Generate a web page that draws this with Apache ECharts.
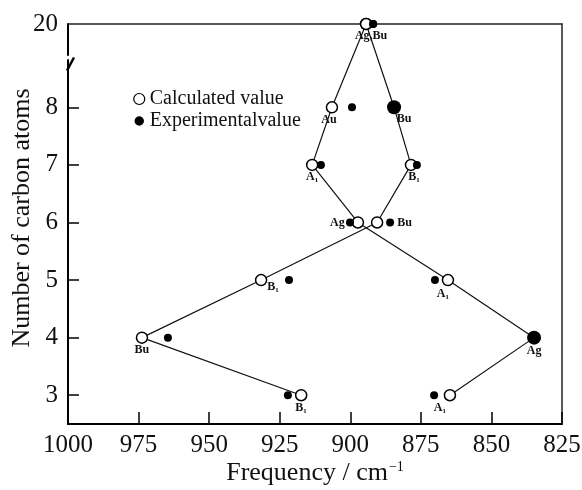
<!DOCTYPE html>
<html>
<head>
<meta charset="utf-8">
<script src="https://cdn.jsdelivr.net/npm/echarts@6.0.0/dist/echarts.min.js"></script>
<style>
  html, body { margin: 0; padding: 0; background: #fff; }
  #chart { width: 582px; height: 490px; }
</style>
</head>
<body>
<div id="chart"></div>
<script>
// number of carbon atoms, top to bottom
var carbons = [20, 8, 7, 6, 5, 4, 3];
// branch A (Au / A1 / Ag) and branch B (Bu / B1)
var calcA = [894.4, 906.5, 913.5, 897.3, 865.4, 834.9, 864.7];
var expA  = [891.9, 899.4, 910.4, 900.1, 870.0, 834.9, 870.3];
var calcB = [894.4, 884.5, 878.5, 890.5, 931.6, 973.8, 917.4];
var expB  = [891.9, 884.5, 876.4, 885.9, 921.7, 964.6, 922.1];
var labelsA = ['Ag,Bu', 'Au', 'A₁', 'Ag', 'A₁', 'Ag', 'A₁'];
var labelsB = ['', 'Bu', 'B₁', 'Bu', 'B₁', 'Bu', 'B₁'];
var yTicks = [3, 4, 5, 6, 7, 8, 20];
var yBreak = [8.83, 19.47];

var serif = '"Liberation Serif", "Times New Roman", serif';

// where each label sits round its point
var placeA = [
    {position: 'bottom', offset: [5, -2]},
    {position: 'bottom', offset: [-3, -2]},
    {position: 'bottom', offset: [0, -2]},
    {position: 'left', distance: 7},
    {position: 'bottom', offset: [-5, 0]},
    {position: 'bottom', offset: [0, -1]},
    {position: 'bottom', offset: [-10, -2]}
];
var placeB = [
    {position: 'bottom'},
    {position: 'bottom', offset: [10, -3]},
    {position: 'bottom', offset: [3, -2]},
    {position: 'right', distance: 14},
    {position: 'right', distance: 0, offset: [0, 7]},
    {position: 'bottom', offset: [0, -2]},
    {position: 'bottom', offset: [0, -2]}
];

function chain(calc, labels, place) {
    return calc.map(function (x, i) {
        return {
            value: [x, carbons[i]],
            label: Object.assign({show: labels[i] !== '', formatter: labels[i]}, place[i])
        };
    });
}
function pairs(exp, calc) {
    return exp.map(function (x, i) { return [x, carbons[i], calc[i]]; });
}

var lineStyleCalc = {
    type: 'line',
    name: 'Calculated value',
    symbol: 'circle',
    symbolSize: 11,
    itemStyle: {color: '#fff', borderColor: '#000', borderWidth: 1.5, opacity: 1},
    lineStyle: {color: '#111', width: 1.2},
    label: {color: '#111', fontFamily: serif, fontWeight: 'bold', fontSize: 12, distance: 2},
    emphasis: {disabled: true},
    z: 3
};

var myChart = echarts.init(document.getElementById('chart'));
myChart.setOption({
    animation: false,
    backgroundColor: '#fff',
    grid: {left: 68, right: 20, top: 24, bottom: 66, outerBoundsMode: 'none', containLabel: false},
    legend: {
        orient: 'vertical',
        left: 128,
        top: 84,
        itemGap: 2,
        itemWidth: 11,
        itemHeight: 11,
        textStyle: {fontFamily: serif, fontSize: 20, color: '#111'},
        data: [
            {name: 'Calculated value', icon: 'circle', itemStyle: {color: '#fff', borderColor: '#000', borderWidth: 1.2}},
            {name: 'Experimentalvalue', icon: 'circle', itemStyle: {color: '#000', borderColor: '#fff', borderWidth: 1.5}}
        ]
    },
    xAxis: [
        {
            type: 'value',
            inverse: true,
            min: 825,
            max: 1000,
            interval: 25,
            name: 'Frequency / cm{sup|−1}',
            nameLocation: 'middle',
            nameGap: 36,
            nameMoveOverlap: false,
            nameTextStyle: {
                fontFamily: serif, fontSize: 26, color: '#111',
                rich: {sup: {fontFamily: serif, fontSize: 14, color: '#111', verticalAlign: 'top', padding: [0, 0, 12, 1]}}
            },
            axisLine: {lineStyle: {color: '#000', width: 2}},
            axisTick: {inside: true, length: 12, lineStyle: {color: '#000', width: 1.5}},
            axisLabel: {fontFamily: serif, fontSize: 25, color: '#111', margin: 9, formatter: function (v) { return String(v); }},
            splitLine: {show: false}
        },
        {
            type: 'value',
            position: 'top',
            inverse: true,
            min: 825,
            max: 1000,
            axisLine: {show: true, onZero: false, lineStyle: {color: '#222', width: 1.5}},
            axisTick: {show: false},
            axisLabel: {show: false},
            splitLine: {show: false}
        }
    ],
    yAxis: [
        {
            type: 'value',
            min: 2.5,
            max: 20,
            breaks: [{start: yBreak[0], end: yBreak[1], gap: '1.25%'}],
            breakArea: {show: true, itemStyle: {color: 'rgba(0,0,0,0)', borderColor: 'rgba(0,0,0,0)'}},
            name: 'Number of carbon atoms',
            nameLocation: 'middle',
            nameGap: 33,
            nameMoveOverlap: false,
            nameTextStyle: {fontFamily: serif, fontSize: 26, color: '#111', padding: [0, 0, 0, 12]},
            axisLine: {lineStyle: {color: '#000', width: 2}},
            axisTick: {inside: true, length: 11, customValues: [3, 4, 5, 6, 7, 8], lineStyle: {color: '#000', width: 1.5}},
            axisLabel: {fontFamily: serif, fontSize: 25, color: '#111', margin: 10, customValues: yTicks},
            splitLine: {show: false}
        },
        {
            type: 'value',
            position: 'right',
            min: 0,
            max: 1,
            axisLine: {show: true, onZero: false, lineStyle: {color: '#222', width: 1.5}},
            axisTick: {show: false},
            axisLabel: {show: false},
            splitLine: {show: false}
        }
    ],
    series: [
        Object.assign({data: chain(calcA, labelsA, placeA)}, lineStyleCalc),
        Object.assign({data: chain(calcB, labelsB, placeB)}, lineStyleCalc),
        {
            type: 'scatter',
            name: 'Experimentalvalue',
            symbol: 'circle',
            // a point that lies on its calculated value is drawn as one large disc
            symbolSize: function (v) { return v[0] === v[2] ? 14 : 8; },
            itemStyle: {color: '#000', opacity: 1},
            emphasis: {disabled: true},
            z: 4,
            data: pairs(expA, calcA).concat(pairs(expB, calcB))
        }
    ]
});

// slash across the break in the y axis
var bx = myChart.convertToPixel({xAxisIndex: 0}, 1000);
var by = myChart.convertToPixel({yAxisIndex: 0}, yBreak[0]);
myChart.setOption({
    graphic: [{
        type: 'line',
        shape: {x1: bx - 1, y1: by + 11, x2: bx + 6, y2: by - 2},
        style: {stroke: '#000', lineWidth: 2.5},
        z: 10
    }]
});
</script>
</body>
</html>
